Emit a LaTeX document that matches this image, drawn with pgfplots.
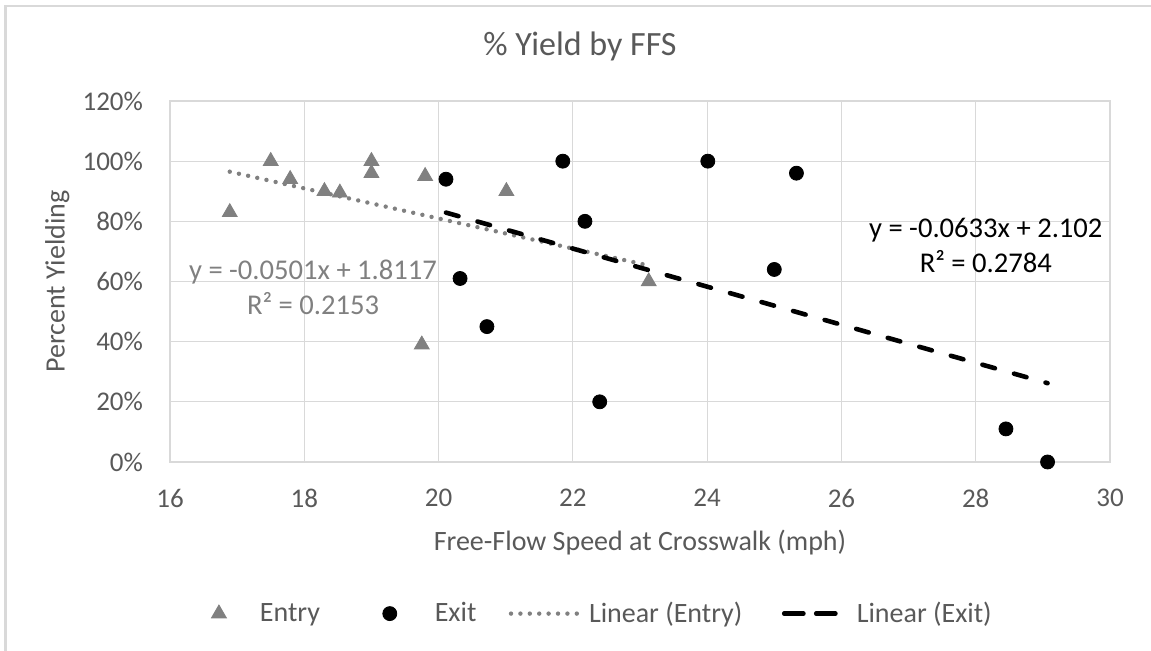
\documentclass[border=0pt]{standalone}
\usepackage{pgfplots}
\pgfplotsset{compat=1.18}
\usepackage{fontspec}
\setmainfont{Carlito}

\definecolor{txtgray}{HTML}{595959}
\definecolor{gridgray}{HTML}{D9D9D9}
\definecolor{entrygray}{HTML}{808080}

\pgfplotsset{
	markleg/.style={legend image code/.code={%
		\path[draw=none] (0pt,0pt) -- (#1,0pt);
		\draw[mark repeat=2,mark phase=2,##1] plot coordinates {(0pt,0pt)(4pt,0pt)(8pt,0pt)};}},
	lineleg/.style={legend image code/.code={\draw[##1] (0pt,0pt) -- (#1,0pt);}},
	dashleg/.style={legend image code/.code={%
		\path[draw=none] (0pt,0pt) -- (#1,0pt);
		\draw[##1, solid] (1.2pt,0pt) -- (10.8pt,0pt) (17.2pt,0pt) -- (26.8pt,0pt);}},
}

\begin{document}
\begin{tikzpicture}
	\useasboundingbox (0,0) rectangle (575.5pt,325.5pt);
	% chart frame (top and left only, as in the crop)
	\draw[gridgray, line width=1.3pt] (2.7pt,0pt) -- (2.7pt,322.5pt) -- (575.5pt,322.5pt);

	\node[font=\fontsize{17}{20}\selectfont, text=txtgray] at (290pt,302.5pt) {\% Yield by FFS};

	\begin{axis}[
		at={(85pt,94.5pt)}, anchor=south west,
		scale only axis,
		width=470pt, height=180.5pt,
		xmin=16, xmax=30, ymin=0, ymax=120,
		xtick={16,18,...,30},
		ytick={0,20,...,120},
		yticklabels={0\%,20\%,40\%,60\%,80\%,100\%,120\%},
		/pgf/number format/assume math mode=true,
		grid=major,
		major grid style={gridgray, line width=0.6pt},
		axis line style={gridgray, line width=0.6pt},
		major tick length=0pt,
		tick label style={font=\fontsize{13.5}{16}\selectfont, text=txtgray},
		xticklabel style={yshift=-10pt},
		yticklabel style={xshift=-10pt},
		xlabel={Free-Flow Speed at Crosswalk (mph)},
		ylabel={Percent Yielding},
		label style={font=\fontsize{14}{17}\selectfont, text=txtgray},
		xlabel style={at={(axis description cs:0.5,-0.224)}, anchor=center},
		ylabel style={at={(axis description cs:-0.120,0.5)}, anchor=center},
		legend columns=4,
		legend style={at={(0.461,-0.42)}, anchor=center, draw=none,
			font=\fontsize{14}{17}\selectfont, text=txtgray},
		clip=false,
	]
	% Entry
	\addplot[only marks, mark=triangle*, mark size=4.3pt, color=entrygray, markleg=22.5pt]
		coordinates {
		(16.89,83) (17.50,100) (17.79,94) (18.30,90) (18.53,89.5)
		(19.00,100) (19.00,96) (19.80,95) (21.01,90) (19.75,39) (23.13,60)
	};
	\addlegendentry{Entry\rule{28.9pt}{0pt}}
	% Exit
	\addplot[only marks, mark=*, mark size=3.5pt, color=black, markleg=24.5pt]
		coordinates {
		(20.11,94) (21.85,100) (20.32,61) (20.72,45) (22.18,80) (22.40,20)
		(24.01,100) (25.33,96) (25.00,64) (28.45,11) (29.07,0)
	};
	\addlegendentry{Exit\rule{14.2pt}{0pt}}
	% Linear (Entry): y = -0.0501x + 1.8117
	\addplot[entrygray, line width=2.2pt, line cap=round, dash pattern=on 0pt off 4.7pt, lineleg=32.9pt]
		coordinates {(16.89,96.5) (23.13,65.3)};
	\addlegendentry{\kern3pt Linear (Entry)\rule{17.7pt}{0pt}}
	% Linear (Exit): y = -0.0633x + 2.102
	\addplot[black, line width=2.3pt, line cap=round, dash pattern=on 6.5pt off 9.9pt, dashleg=35.5pt]
		coordinates {(20.11,82.9) (29.07,26.2)};
	\addlegendentry{Linear (Exit)}

	\node[align=center, font=\fontsize{14.3}{17.5}\selectfont, text=entrygray]
		at (axis cs:18.13,58) {y = -0.0501x + 1.8117\\R² = 0.2153};
	\node[align=center, font=\fontsize{14.3}{17.5}\selectfont, text=black]
		at (axis cs:28.15,71.9) {y = -0.0633x + 2.102\\R² = 0.2784};
	\end{axis}
\end{tikzpicture}
\end{document}
